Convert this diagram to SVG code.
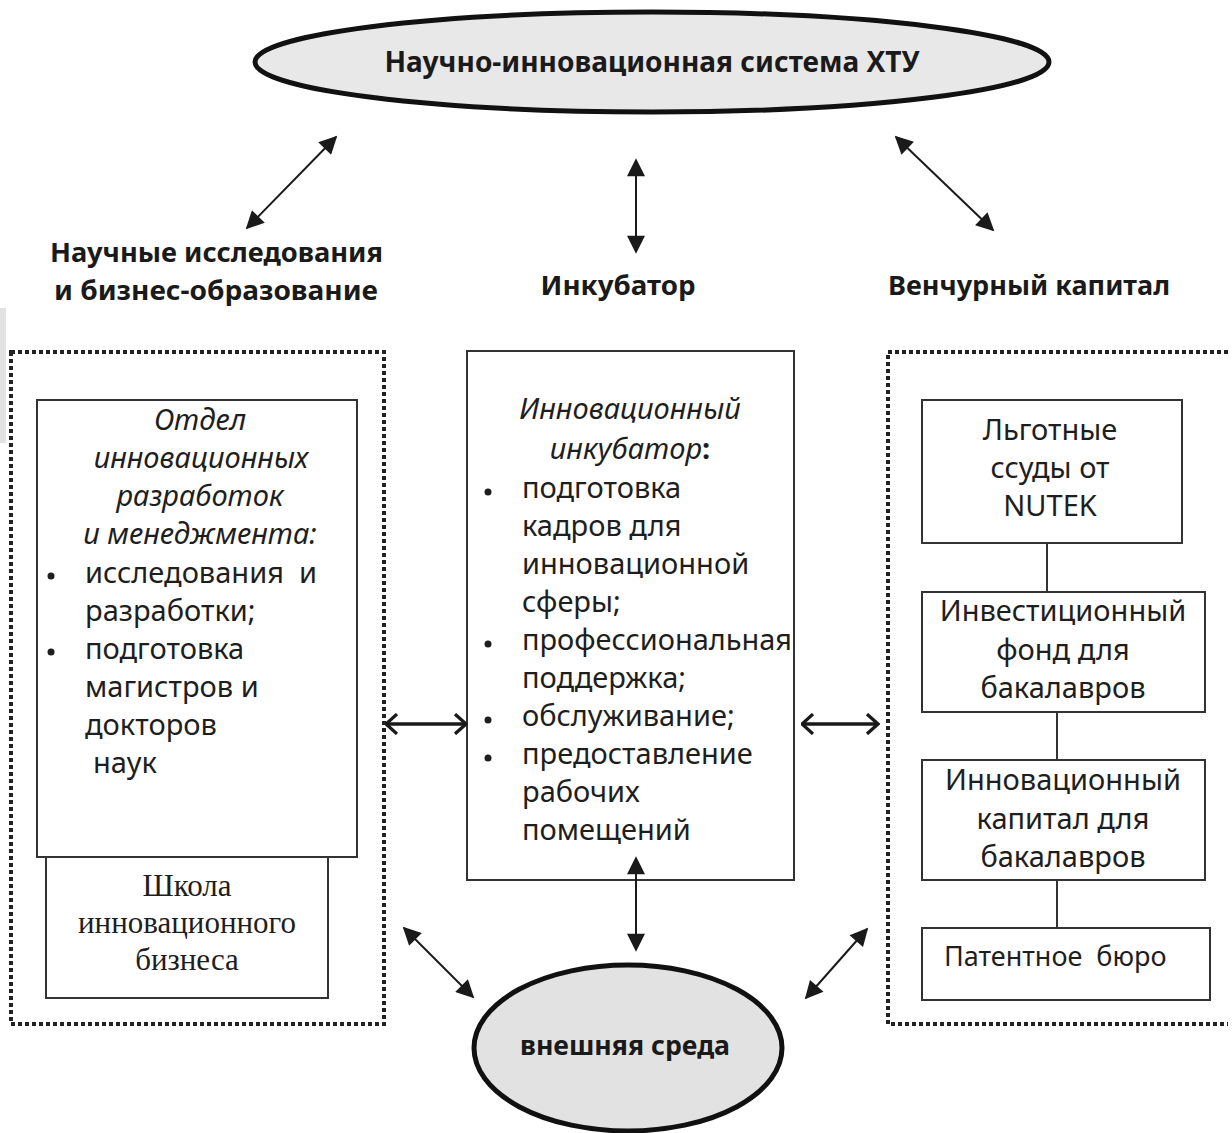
<svg xmlns="http://www.w3.org/2000/svg" width="1232" height="1133" viewBox="0 0 1232 1133">
<defs>
<marker id="triL" viewBox="0 0 10 10" refX="9" refY="5" markerWidth="20" markerHeight="18" markerUnits="userSpaceOnUse" orient="auto-start-reverse">
<path d="M0,0 L10,5 L0,10 z" fill="#1a1a1a"/>
</marker>
<marker id="chev" viewBox="0 0 12 20" refX="11" refY="10" markerWidth="14" markerHeight="22" markerUnits="userSpaceOnUse" orient="auto-start-reverse">
<path d="M1,1 L11,10 L1,19" fill="none" stroke="#1a1a1a" stroke-width="3"/>
</marker>
</defs>
<style>
.t{font-family:"Noto Sans","Open Sans","DejaVu Sans",sans-serif;font-size:29px;fill:#1e1e1e}
.i{font-style:italic}
.b{font-weight:bold}
.s{font-family:"Liberation Serif","Times New Roman",serif;font-size:31px;fill:#1e1e1e}
.h{font-family:"Noto Sans","Open Sans","DejaVu Sans",sans-serif;font-weight:bold;font-size:27px;fill:#1a1a1a}
.box{fill:#fff;stroke:#333;stroke-width:2}
.dot{fill:none;stroke:#222;stroke-width:4;stroke-dasharray:4 3}
.ell{stroke:#111;stroke-width:5}
.c{stroke:#1a1a1a;stroke-width:2;fill:none}
.ch{stroke:#1a1a1a;stroke-width:3.5;fill:none}
.ln{stroke:#333;stroke-width:2}
</style>
<rect width="1232" height="1133" fill="#fff"/>
<rect x="0" y="308" width="6" height="135" fill="#e2e2e2"/>

<g id="top-ellipse">
<ellipse class="ell" cx="652" cy="62" rx="397" ry="50" fill="#e8e8e8"/>
<text class="h" x="652" y="72" text-anchor="middle" style="font-size:29px" textLength="535" lengthAdjust="spacingAndGlyphs">Научно-инновационная система ХТУ</text>
</g>

<g id="heading-left">
<text class="h" x="50" y="262" textLength="333" lengthAdjust="spacingAndGlyphs">Научные исследования</text>
<text class="h" x="54" y="300" textLength="324" lengthAdjust="spacingAndGlyphs">и бизнес-образование</text>
</g>
<g id="heading-mid">
<text class="h" x="618" y="295" text-anchor="middle" textLength="155" lengthAdjust="spacingAndGlyphs">Инкубатор</text>
</g>
<g id="heading-right">
<text class="h" x="888" y="295" textLength="282" lengthAdjust="spacingAndGlyphs">Венчурный капитал</text>
</g>

<g id="group-left">
<rect class="dot" x="11" y="352" width="373" height="672"/>
</g>
<g id="group-right">
<path class="dot" d="M1228,352 L888,352 L888,1024 L1228,1024"/>
</g>

<g id="dept">
<rect class="box" x="37" y="400" width="320" height="457"/>
<text class="t i" x="200" y="430" text-anchor="middle">Отдел</text>
<text class="t i" x="201" y="468" text-anchor="middle">инновационных</text>
<text class="t i" x="200" y="506" text-anchor="middle">разработок</text>
<text class="t i" x="200" y="544" text-anchor="middle">и менеджмента:</text>
<circle cx="51" cy="576" r="3.5" fill="#1e1e1e"/>
<text class="t" x="85" y="583" xml:space="preserve">исследования  и</text>
<text class="t" x="85" y="621">разработки;</text>
<circle cx="51" cy="652" r="3.5" fill="#1e1e1e"/>
<text class="t" x="85" y="659">подготовка</text>
<text class="t" x="85" y="697">магистров и</text>
<text class="t" x="85" y="735">докторов</text>
<text class="t" x="93" y="773">наук</text>
</g>

<g id="school">
<rect class="box" x="46" y="857" width="282" height="141"/>
<text class="s" x="187" y="896" text-anchor="middle">Школа</text>
<text class="s" x="187" y="933" text-anchor="middle">инновационного</text>
<text class="s" x="187" y="970" text-anchor="middle">бизнеса</text>
</g>

<g id="incubator">
<rect class="box" x="467" y="351" width="327" height="529"/>
<text class="t i" x="630" y="419" text-anchor="middle">Инновационный</text>
<text class="t" x="630" y="459" text-anchor="middle"><tspan class="i">инкубатор</tspan><tspan class="b">:</tspan></text>
<circle cx="488" cy="492" r="3.5" fill="#1e1e1e"/>
<text class="t" x="522" y="498">подготовка</text>
<text class="t" x="522" y="536">кадров для</text>
<text class="t" x="522" y="574">инновационной</text>
<text class="t" x="522" y="612">сферы;</text>
<circle cx="488" cy="644" r="3.5" fill="#1e1e1e"/>
<text class="t" x="522" y="650" textLength="270" lengthAdjust="spacingAndGlyphs">профессиональная</text>
<text class="t" x="522" y="688">поддержка;</text>
<circle cx="488" cy="720" r="3.5" fill="#1e1e1e"/>
<text class="t" x="522" y="726">обслуживание;</text>
<circle cx="488" cy="758" r="3.5" fill="#1e1e1e"/>
<text class="t" x="522" y="764">предоставление</text>
<text class="t" x="522" y="802">рабочих</text>
<text class="t" x="522" y="840">помещений</text>
</g>

<g id="nutek">
<rect class="box" x="922" y="400" width="260" height="143"/>
<text class="t" x="1050" y="440" text-anchor="middle">Льготные</text>
<text class="t" x="1050" y="478" text-anchor="middle">ссуды от</text>
<text class="t" x="1050" y="516" text-anchor="middle">NUTEK</text>
</g>
<g id="fund">
<rect class="box" x="922" y="592" width="283" height="120"/>
<text class="t" x="1063" y="621" text-anchor="middle">Инвестиционный</text>
<text class="t" x="1063" y="660" text-anchor="middle">фонд для</text>
<text class="t" x="1063" y="698" text-anchor="middle">бакалавров</text>
</g>
<g id="capital">
<rect class="box" x="922" y="760" width="283" height="120"/>
<text class="t" x="1063" y="790" text-anchor="middle">Инновационный</text>
<text class="t" x="1063" y="829" text-anchor="middle">капитал для</text>
<text class="t" x="1063" y="867" text-anchor="middle">бакалавров</text>
</g>
<g id="patent">
<rect class="box" x="922" y="928" width="288" height="72"/>
<text class="t" x="944" y="966" style="font-size:27px" xml:space="preserve">Патентное  бюро</text>
</g>

<g id="env-ellipse">
<ellipse class="ell" cx="628" cy="1048" rx="154" ry="83" fill="#e2e2e2"/>
<text class="h" x="625" y="1055" text-anchor="middle" textLength="210" lengthAdjust="spacingAndGlyphs">внешняя среда</text>
</g>

<g id="connectors">
<line class="c" x1="247" y1="228" x2="336" y2="137" marker-start="url(#triL)" marker-end="url(#triL)"/>
<line class="c" x1="636" y1="160" x2="636" y2="252" marker-start="url(#triL)" marker-end="url(#triL)"/>
<line class="c" x1="896" y1="137" x2="993" y2="230" marker-start="url(#triL)" marker-end="url(#triL)"/>
<line class="ch" x1="386" y1="724" x2="466" y2="724" marker-start="url(#chev)" marker-end="url(#chev)"/>
<line class="ch" x1="802" y1="724" x2="878" y2="724" marker-start="url(#chev)" marker-end="url(#chev)"/>
<line class="c" x1="636" y1="858" x2="636" y2="950" marker-start="url(#triL)" marker-end="url(#triL)"/>
<line class="c" x1="404" y1="928" x2="473" y2="997" marker-start="url(#triL)" marker-end="url(#triL)"/>
<line class="c" x1="867" y1="929" x2="806" y2="998" marker-start="url(#triL)" marker-end="url(#triL)"/>
<line class="ln" x1="1047" y1="543" x2="1047" y2="592"/>
<line class="ln" x1="1057" y1="712" x2="1057" y2="760"/>
<line class="ln" x1="1057" y1="880" x2="1057" y2="928"/>
</g>
</svg>
